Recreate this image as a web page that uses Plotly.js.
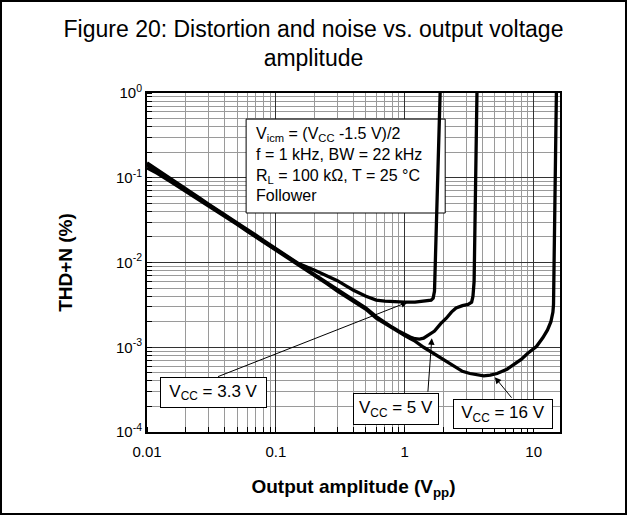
<!DOCTYPE html>
<html>
<head>
<meta charset="utf-8">
<script src="https://cdn.plot.ly/plotly-3.0.1.min.js"></script>
<style>
  html, body { margin: 0; padding: 0; background: #fff; }
  #chart { width: 627px; height: 515px; }
</style>
</head>
<body>
<div id="chart"></div>
<script>
// ---- Data (Output amplitude Vpp vs THD+N %) ----
const x_vcc33 = [0.01, 0.012, 0.015, 0.02, 0.025, 0.03, 0.04, 0.05, 0.06, 0.07, 0.08, 0.1, 0.12, 0.15, 0.2, 0.25, 0.3, 0.35, 0.4, 0.5, 0.6, 0.7, 0.8, 1.0, 1.2, 1.4, 1.6, 1.66, 1.70, 1.88];
const y_vcc33 = [0.150, 0.124, 0.098, 0.073, 0.059, 0.049, 0.037, 0.0295, 0.0245, 0.0210, 0.0182, 0.0146, 0.0121, 0.0097, 0.0081, 0.0070, 0.0061, 0.0053, 0.0047, 0.0040, 0.0036, 0.0035, 0.00345, 0.0034, 0.0034, 0.0035, 0.0036, 0.0038, 0.0046, 1.0];

const x_vcc5 = [0.01, 0.012, 0.015, 0.02, 0.025, 0.03, 0.04, 0.05, 0.06, 0.07, 0.08, 0.1, 0.12, 0.15, 0.2, 0.25, 0.3, 0.4, 0.5, 0.6, 0.7, 0.8, 0.9, 1.0, 1.1, 1.2, 1.3, 1.4, 1.55, 1.7, 1.9, 2.1, 2.3, 2.5, 2.8, 3.1, 3.3, 3.38, 3.45, 3.63];
const y_vcc5 = [0.142, 0.119, 0.095, 0.072, 0.058, 0.048, 0.036, 0.029, 0.0238, 0.0204, 0.0178, 0.0143, 0.0119, 0.0095, 0.0072, 0.0058, 0.0048, 0.0036, 0.0029, 0.0023, 0.00195, 0.00172, 0.00155, 0.00142, 0.00132, 0.00126, 0.00125, 0.00128, 0.0014, 0.00155, 0.0019, 0.0022, 0.0026, 0.0029, 0.0031, 0.0032, 0.0034, 0.0040, 0.0060, 1.0];

const x_vcc16 = [0.01, 0.012, 0.015, 0.02, 0.025, 0.03, 0.04, 0.05, 0.06, 0.07, 0.08, 0.1, 0.12, 0.15, 0.2, 0.25, 0.3, 0.4, 0.5, 0.6, 0.7, 0.8, 0.9, 1.0, 1.1, 1.2, 1.4, 1.6, 1.8, 2.0, 2.4, 2.8, 3.2, 3.6, 4.1, 4.6, 5.2, 6.2, 7.0, 8.0, 9.0, 10.5, 11.8, 12.8, 13.6, 14.1, 14.25, 15.0];
const y_vcc16 = [0.131, 0.113, 0.091, 0.069, 0.0555, 0.0465, 0.0352, 0.0281, 0.0233, 0.0200, 0.0174, 0.0139, 0.0116, 0.0092, 0.0069, 0.0056, 0.0046, 0.0035, 0.0028, 0.0022, 0.00190, 0.00166, 0.00149, 0.00137, 0.00127, 0.00118, 0.00100, 0.00088, 0.00080, 0.00072, 0.00061, 0.00052, 0.00049, 0.00048, 0.00046, 0.00047, 0.00049, 0.00055, 0.00062, 0.00072, 0.00085, 0.00102, 0.00130, 0.00160, 0.0020, 0.0026, 0.0032, 1.0];

const xTickVals = [0.01, 0.1, 1, 10];
const xTickText = ['0.01', '0.1', '1', '10'];
const yTickVals = [1e-4, 1e-3, 1e-2, 1e-1, 1];
const yTickText = ['10<sup>-4</sup>', '10<sup>-3</sup>', '10<sup>-2</sup>', '10<sup>-1</sup>', '10<sup>0</sup>'];

// curve labels: text and the point on the curve each arrow points to
const labelTexts = ['V<sub>CC</sub> = 3.3 V', 'V<sub>CC</sub> = 5 V', 'V<sub>CC</sub> = 16 V'];
const labelPointX = [1.05, 1.62, 4.99];
const labelPointY = [0.0034, 0.00128, 0.000444];

const conditionsText = 'V<sub>icm</sub> = (V<sub>CC</sub> -1.5 V)/2<br>f = 1 kHz, BW = 22 kHz<br>R<sub>L</sub> = 100 kΩ, T = 25 °C<br>Follower';

// ---- Plot ----
const FONT = 'Liberation Sans, Arial, Helvetica, sans-serif';
const lineStyle = {color: '#000', width: 3.3};
const xRange = [-2, Math.log10(16)];
const yRange = [-4, 0];

const traces = [
  {x: x_vcc33, y: y_vcc33, name: 'VCC = 3.3 V', mode: 'lines', line: lineStyle},
  {x: x_vcc5, y: y_vcc5, name: 'VCC = 5 V', mode: 'lines', line: lineStyle},
  {x: x_vcc16, y: y_vcc16, name: 'VCC = 16 V', mode: 'lines', line: lineStyle}
];

// layout placement (pixels / fractions of the plot area)
const arrowTail = [[-191, 75], [-4, 55], [18, 22]];
const boxPos = [[0.162, 0.1165], [0.603, 0.068], [0.862, 0.053]];
const boxSize = [[101, 25], [80, 26], [94, 24]];
const condBox = {fx0: 0.240, fx1: 0.722, fy0: 0.646, fy1: 0.923};
// fraction of plot area -> axis data value (log axes)
const fx = f => Math.pow(10, xRange[0] + f * (xRange[1] - xRange[0]));
const fy = f => Math.pow(10, yRange[0] + f * (yRange[1] - yRange[0]));

const annotations = [];
for (let i = 0; i < labelTexts.length; i++) {
  annotations.push({
    xref: 'x', yref: 'y',
    x: Math.log10(labelPointX[i]), y: Math.log10(labelPointY[i]),
    text: '', showarrow: true, ax: arrowTail[i][0], ay: arrowTail[i][1],
    arrowhead: 2, arrowsize: 1.3, arrowwidth: 1, arrowcolor: '#000'
  });
  annotations.push({
    xref: 'paper', yref: 'paper', x: boxPos[i][0], y: boxPos[i][1],
    xanchor: 'center', yanchor: 'middle',
    text: labelTexts[i], showarrow: false,
    width: boxSize[i][0], height: boxSize[i][1], borderpad: 2,
    bgcolor: '#fff', bordercolor: '#000', borderwidth: 1,
    font: {family: FONT, size: 17, color: '#000'}
  });
}
annotations.push({
  xref: 'paper', yref: 'paper', x: 0.259, y: 0.912,
  xanchor: 'left', yanchor: 'top', align: 'left',
  text: conditionsText, showarrow: false,
  font: {family: FONT, size: 16, color: '#000'}
});

const layout = {
  width: 627, height: 515,
  margin: {l: 147, r: 67, t: 93, b: 83},
  paper_bgcolor: '#fff', plot_bgcolor: '#fff',
  showlegend: false,
  font: {family: FONT, color: '#000'},
  title: {
    text: 'Figure 20: Distortion and noise vs. output voltage<br>amplitude',
    font: {family: FONT, size: 23, color: '#000'},
    x: 0.5, xref: 'container', xanchor: 'center',
    y: 0.929, yref: 'container', yanchor: 'top'
  },
  xaxis: {
    type: 'log', range: xRange,
    tickmode: 'array', tickvals: xTickVals, ticktext: xTickText,
    tickfont: {family: FONT, size: 15, color: '#000'},
    ticks: '', ticklabelstandoff: 5,
    showline: true, mirror: true, linecolor: '#000', linewidth: 2,
    showgrid: true, gridcolor: '#333', gridwidth: 1,
    minor: {dtick: 'D1', showgrid: true, gridcolor: '#9a9a9a', gridwidth: 1, ticks: 'inside', ticklen: 5, tickcolor: '#000'},
    zeroline: false,
    title: {text: 'Output amplitude (V<sub>pp</sub>)', font: {family: FONT, size: 19, color: '#000', weight: 'bold'}, standoff: 21}
  },
  yaxis: {
    type: 'log', range: yRange,
    tickmode: 'array', tickvals: yTickVals, ticktext: yTickText,
    tickfont: {family: FONT, size: 15, color: '#000'},
    ticks: '', showline: true, mirror: true, linecolor: '#000', linewidth: 2,
    showgrid: true, gridcolor: '#333', gridwidth: 1,
    minor: {dtick: 'D1', showgrid: true, gridcolor: '#9a9a9a', gridwidth: 1, ticks: 'inside', ticklen: 5, tickcolor: '#000'},
    zeroline: false,
    title: {text: 'THD+N (%)', font: {family: FONT, size: 19, color: '#000', weight: 'bold'}, standoff: 38}
  },
  shapes: [
    {type: 'rect', xref: 'x', yref: 'y',
     x0: fx(condBox.fx0), x1: fx(condBox.fx1), y0: fy(condBox.fy0), y1: fy(condBox.fy1),
     layer: 'between', fillcolor: '#fff', line: {color: '#000', width: 1}},
    {type: 'rect', xref: 'paper', yref: 'paper', x0: -0.3535, x1: 1.1598, y0: -0.2419, y1: 1.2714,
     layer: 'above', fillcolor: 'rgba(0,0,0,0)', line: {color: '#000', width: 2}}
  ],
  annotations: annotations
};

Plotly.newPlot('chart', traces, layout, {displayModeBar: false, staticPlot: true});
</script>
</body>
</html>
